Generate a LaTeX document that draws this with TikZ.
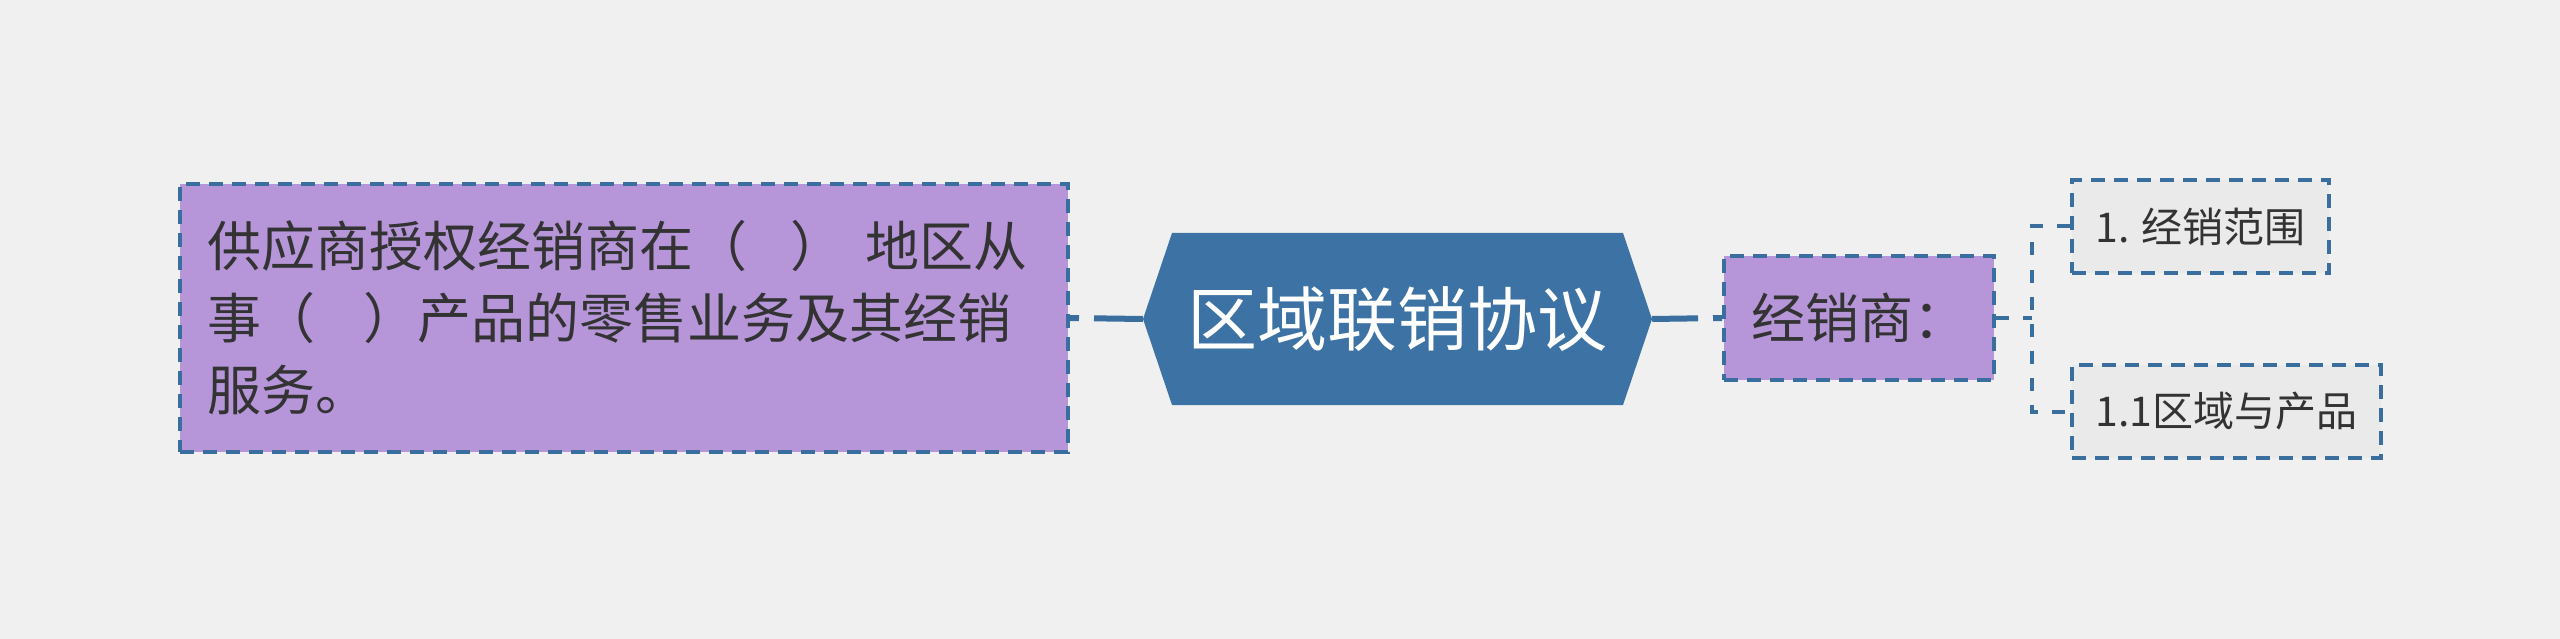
\documentclass[tikz,border=0pt]{standalone}
\usepackage{fontspec}
\setmainfont{Noto Sans CJK SC}
\usetikzlibrary{positioning}
\definecolor{paper}{HTML}{F0F0F0}
\definecolor{lilac}{HTML}{B696D9}
\definecolor{edge}{HTML}{3A6E9F}
\definecolor{hub}{HTML}{3D72A4}
\definecolor{ink}{HTML}{333333}
\definecolor{chip}{HTML}{EAEAEA}
\begin{document}
\begin{tikzpicture}[x=1pt,y=-1pt,
        box/.style={draw=edge, line width=4pt, dash pattern=on 14pt off 9pt, text=ink},
        big/.style={box, fill=lilac, font=\fontsize{54}{72}\selectfont},
        leaf/.style={box, fill=chip, anchor=west, minimum height=93pt, inner xsep=23.5pt, font=\fontsize{41}{50}\selectfont},
        link/.style={draw=edge, line width=6pt, dash pattern=on 9pt off 15pt on 300pt off 1pt},
        branch/.style={draw=edge, line width=4pt, dash pattern=on 13pt off 14pt}]
    \fill[paper] (0,0) rectangle (2560,639);
    \useasboundingbox (0,0) rectangle (2560,639);
    % centre
    \coordinate (c) at (1397.5,319);
    \fill[hub] ([shift={(-225.5,-86)}]c) -- ([shift={(225.5,-86)}]c) -- ([shift={(254.5,0)}]c)
        -- ([shift={(225.5,86)}]c) -- ([shift={(-225.5,86)}]c) -- ([shift={(-254.5,0)}]c) -- cycle;
    \node[minimum width=509pt, minimum height=172pt, inner sep=0pt, text=white,
        font=\fontsize{70}{80}\selectfont] (title) at (c) {区域联销协议};
    % left
    \node[big, minimum width=888pt, minimum height=268pt, inner xsep=27pt,
        text width=834pt, align=left] (scope) at (624,318)
        {供应商授权经销商在（\hspace{0.8em}）\hspace{0.4em}地区从\\
         事（\hspace{0.9em}）产品的零售业务及其经销\\
         服务。};
    % right
    \node[big, minimum width=270pt, minimum height=124pt, inner xsep=27pt] (dealer) at (1859,318) {经销商：};
    \node[leaf] (range) at (2070,226.5) {1. 经销范围};
    \node[leaf] (area) at (2070,411.5) {1.1区域与产品};
    \coordinate (spine) at (2032,318);
    \draw[link] (scope.east) -- (title.west);
    \draw[link] (dealer.west) -- (title.east);
    \draw[branch] (dealer.east) -- (spine);
    \draw[branch] (range.west) -- (range.west -| spine) -- (area.west -| spine) -- (area.west);
\end{tikzpicture}
\end{document}
